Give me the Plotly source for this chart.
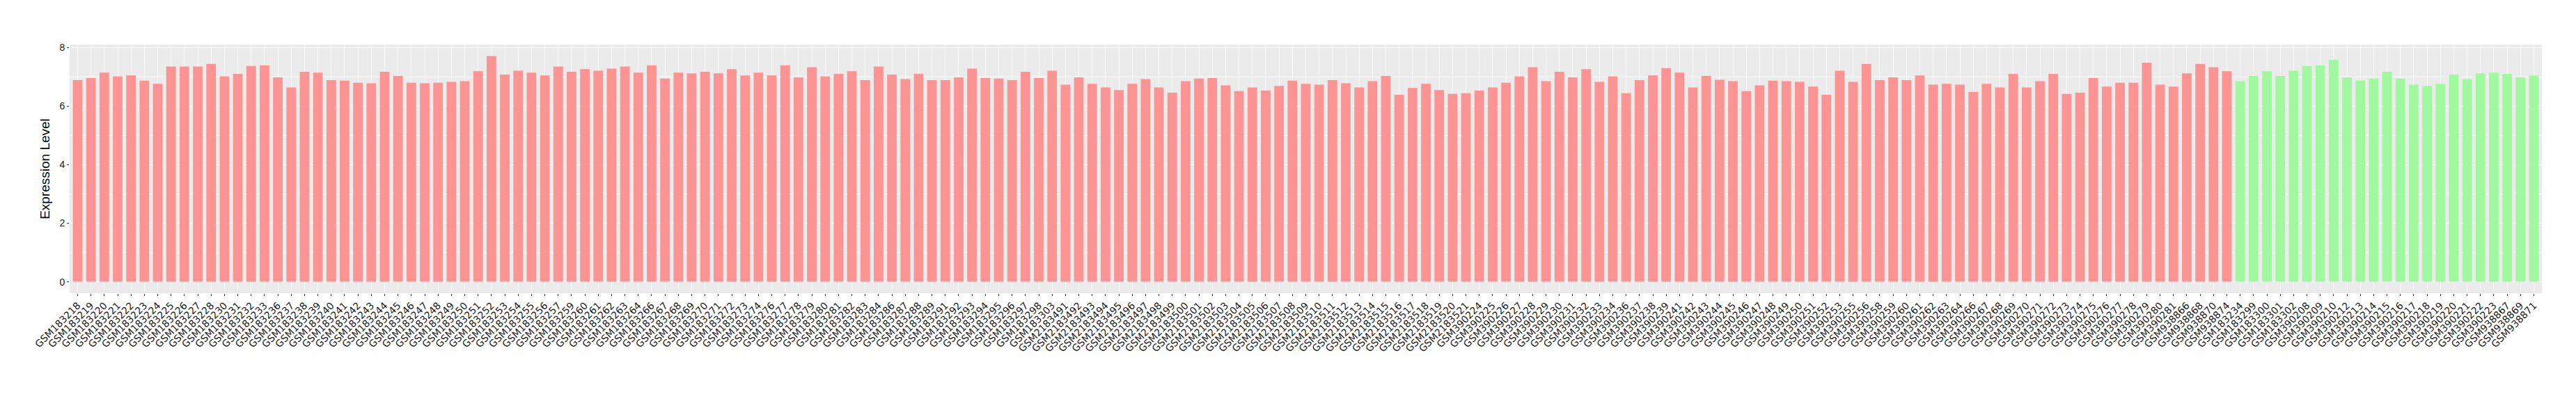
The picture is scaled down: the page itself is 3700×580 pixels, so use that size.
import plotly.graph_objects as go

# Values (about +/-0.03 accuracy).
# NOTE: the bar for GSM390244 (red bar no. 124) could not be read clearly;
# its value 6.90 is an estimate. In the range GSM183288..GSM390244, some
# bars may also be shifted by one position relative to their labels.

red_samples = [
    "GSM183218", "GSM183219", "GSM183220", "GSM183221", "GSM183222", "GSM183223", "GSM183224",
    "GSM183225", "GSM183226", "GSM183227", "GSM183228", "GSM183230", "GSM183231", "GSM183232",
    "GSM183233", "GSM183236", "GSM183237", "GSM183238", "GSM183239", "GSM183240", "GSM183241",
    "GSM183242", "GSM183243", "GSM183244", "GSM183245", "GSM183246", "GSM183247", "GSM183248",
    "GSM183249", "GSM183250", "GSM183251", "GSM183252", "GSM183253", "GSM183254", "GSM183255",
    "GSM183256", "GSM183257", "GSM183259", "GSM183260", "GSM183261", "GSM183262", "GSM183263",
    "GSM183264", "GSM183266", "GSM183267", "GSM183268", "GSM183269", "GSM183270", "GSM183271",
    "GSM183272", "GSM183273", "GSM183274", "GSM183276", "GSM183277", "GSM183278", "GSM183279",
    "GSM183280", "GSM183281", "GSM183282", "GSM183283", "GSM183284", "GSM183286", "GSM183287",
    "GSM183288", "GSM183289", "GSM183291", "GSM183292", "GSM183293", "GSM183294", "GSM183295",
    "GSM183296", "GSM183297", "GSM183298", "GSM183303",
    "GSM2183491", "GSM2183492", "GSM2183493", "GSM2183494", "GSM2183495", "GSM2183496",
    "GSM2183497", "GSM2183498", "GSM2183499", "GSM2183500", "GSM2183501", "GSM2183502",
    "GSM2183503", "GSM2183504", "GSM2183505", "GSM2183506", "GSM2183507", "GSM2183508",
    "GSM2183509", "GSM2183510", "GSM2183511", "GSM2183512", "GSM2183513", "GSM2183514",
    "GSM2183515", "GSM2183516", "GSM2183517", "GSM2183518", "GSM2183519", "GSM2183520",
    "GSM2183521",
    "GSM390224", "GSM390225", "GSM390226", "GSM390227", "GSM390228", "GSM390229", "GSM390230",
    "GSM390231", "GSM390232", "GSM390233", "GSM390234", "GSM390236", "GSM390237", "GSM390238",
    "GSM390239", "GSM390241", "GSM390242", "GSM390243", "GSM390244", "GSM390245", "GSM390246",
    "GSM390247", "GSM390248", "GSM390249", "GSM390250", "GSM390251", "GSM390252", "GSM390253",
    "GSM390255", "GSM390256", "GSM390258", "GSM390259", "GSM390260", "GSM390261", "GSM390262",
    "GSM390263", "GSM390264", "GSM390266", "GSM390267", "GSM390268", "GSM390269", "GSM390270",
    "GSM390271", "GSM390272", "GSM390273", "GSM390274", "GSM390275", "GSM390276", "GSM390277",
    "GSM390278", "GSM390279", "GSM390280", "GSM390281",
    "GSM938866", "GSM938868", "GSM938870", "GSM938874",
]

red_values = [
    6.89, 6.96, 7.14, 7.01, 7.05, 6.87, 6.76, 7.35, 7.35, 7.35,
    7.44, 7.01, 7.10, 7.37, 7.39, 6.98, 6.64, 7.17, 7.14, 6.89,
    6.87, 6.80, 6.78, 7.17, 7.03, 6.80, 6.78, 6.80, 6.83, 6.85,
    7.19, 7.71, 7.08, 7.21, 7.14, 7.05, 7.35, 7.17, 7.26, 7.21,
    7.28, 7.35, 7.14, 7.39, 6.94, 7.14, 7.12, 7.17, 7.12, 7.26,
    7.05, 7.14, 7.05, 7.39, 6.98, 7.33, 7.01, 7.10, 7.19, 6.89,
    7.35, 7.08,
    6.92, 7.10, 6.89, 6.89, 6.98, 7.28, 6.96, 6.94, 6.89, 7.17,
    6.96, 7.21, 6.73, 6.98, 6.76, 6.64, 6.55, 6.76, 6.92, 6.64,
    6.46, 6.85, 6.94, 6.96, 6.71, 6.51, 6.64, 6.53, 6.69, 6.87,
    6.76, 6.73, 6.89, 6.78, 6.64, 6.85, 7.03, 6.39, 6.62, 6.76,
    6.55, 6.42, 6.44, 6.53, 6.64, 6.80, 7.01, 7.33, 6.85, 7.17,
    6.98, 7.26, 6.83, 7.01, 6.44, 6.89, 7.05, 7.30, 7.14, 6.64,
    7.03, 6.90,  # 6.90 = estimated (GSM390244)
    6.85, 6.51, 6.71, 6.87, 6.85, 6.83, 6.67, 6.39, 7.21, 6.83,
    7.44, 6.89, 6.98, 6.89, 7.05, 6.73, 6.76, 6.73, 6.48, 6.76,
    6.64, 7.10, 6.64, 6.85, 7.10, 6.42, 6.46, 6.96, 6.67, 6.80,
    6.80, 7.48, 6.73, 6.67, 7.12, 7.44, 7.33, 7.19, 6.73,
]

green_samples = [
    "GSM183234", "GSM183299", "GSM183300", "GSM183301", "GSM183302", "GSM390208", "GSM390209",
    "GSM390210", "GSM390212", "GSM390213", "GSM390214", "GSM390215", "GSM390216", "GSM390217",
    "GSM390218", "GSM390219", "GSM390220", "GSM390221", "GSM390222", "GSM390223", "GSM938867",
    "GSM938869", "GSM938871",
]

green_values = [
    6.85, 7.03, 7.19, 7.03, 7.21, 7.37, 7.39, 7.58, 6.98, 6.87,
    6.94, 7.17, 6.94, 6.73, 6.69, 6.76, 7.08, 6.92, 7.12, 7.14,
    7.10, 6.98, 7.05,
]

y_title = "Expression Level"
y_ticks = [0, 2, 4, 6, 8]

all_samples = red_samples + green_samples
n = len(all_samples)

fig = go.Figure()
fig.add_trace(go.Bar(x=red_samples, y=red_values, marker=dict(color="#FC9494", line=dict(width=0)),
                     width=0.72, showlegend=False))
fig.add_trace(go.Bar(x=green_samples, y=green_values, marker=dict(color="#A0F99E", line=dict(width=0)),
                     width=0.72, showlegend=False))

fig.update_layout(
    width=3700, height=580,
    margin=dict(l=92, r=57, t=56, b=167),
    paper_bgcolor="white", plot_bgcolor="#EBEBEB",
    bargap=0.28,
    font=dict(family="Liberation Sans, Arial, sans-serif", color="#1a1a1a"),
)
fig.update_xaxes(
    type="category", categoryorder="array", categoryarray=all_samples,
    range=[-0.6, n - 0.4],
    tickangle=-45, tickfont=dict(family="DejaVu Sans", size=14, color="#1a1a1a"),
    ticks="outside", ticklen=3, tickwidth=1, tickcolor="#333333",
    showgrid=True, gridcolor="white", gridwidth=1.1,
    showline=False, zeroline=False, automargin=False,
)
fig.update_yaxes(
    range=[-0.39, 8.1], tickvals=y_ticks,
    tickfont=dict(size=14, color="#1a1a1a"),
    ticks="outside", ticklen=3, tickwidth=1, tickcolor="#333333",
    showgrid=True, gridcolor="white", gridwidth=1.1,
    minor=dict(dtick=1, showgrid=True, gridcolor="white", gridwidth=0.5, ticks=""),
    zeroline=False, showline=False,
    title=dict(text=y_title, font=dict(size=19, color="#000000"), standoff=8),
    automargin=False,
)

fig.write_html("out.html")
